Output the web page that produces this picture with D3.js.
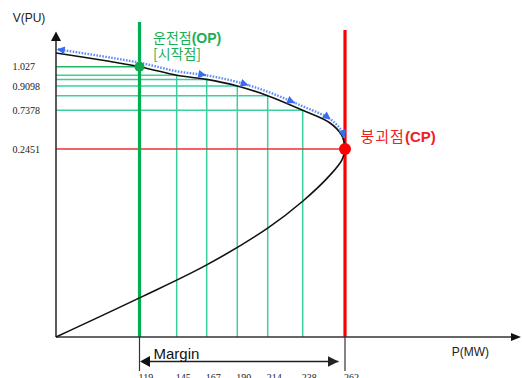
<!DOCTYPE html>
<html><head><meta charset="utf-8">
<script src="https://cdn.jsdelivr.net/npm/d3@7"></script>
<style>body{margin:0;background:#fff}svg{display:block}</style>
</head><body>
<svg id="c" width="522" height="378"></svg>
<script>
// ---------- data ----------
const tickP = [119, 145, 167, 190, 214, 238, 262];          // P(MW) ticks
const gridV = [1.027, 0.975, 0.95, 0.9098, 0.841, 0.7378, 0.2451]; // V on the curve at each tick
const yTickLabels = ["1.027", "0.9098", "0.7378", "0.2451"];
const upperBranch = [[0,1.11],[119,1.027],[145,0.975],[167,0.95],[190,0.9098],[214,0.841],[238,0.7378],[253.5,0.576],[260.1,0.423],[261.6,0.321],[262,0.2451]];
const lowerBranch = [[260.3,0.231],[253.5,0.211],[238,0.177],[214,0.142],[167,0.094],[119,0.051],[0,0]];
const opPoint = [119, 1.027];
const cpPoint = [262, 0.2451];
const arrowP = [167, 199, 233, 254, 261.5];
const labels = {op1:"운전점", op2:"(OP)", op3:"[시작점]", cp1:"붕괴점", cp2:"(CP)", y:"V(PU)", x:"P(MW)", margin:"Margin"};

// ---------- scales (schematic, piecewise) ----------
const x = d3.scaleLinear().domain([0].concat(tickP)).range([56, 139.5, 176.7, 206.7, 237.3, 267.7, 302.7, 345]);
const y = d3.scaleLinear().domain([0, 0.2451, 0.7378, 0.9098, 1.027]).range([337, 149, 110.3, 86, 66.7]);
const x0 = x(0), y0 = y(0);

const svg = d3.select("#c");
const defs = svg.append("defs");
function marker(id, color, w, h){
  defs.append("marker").attr("id", id).attr("viewBox","0 0 10 10").attr("refX",10).attr("refY",5)
    .attr("markerUnits","userSpaceOnUse").attr("markerWidth",w).attr("markerHeight",h).attr("orient","auto")
    .append("path").attr("d","M0,0L10,5L0,10z").attr("fill",color);
}
marker("blueArr", "#3a6cf0", 11, 8);
marker("blkArr", "#222", 11, 11);

// ---------- grid ----------
const grid = svg.append("g");
tickP.forEach((p, i) => {
  if (i === 0 || i === tickP.length - 1) return;
  grid.append("line").attr("x1", x0).attr("x2", x(p)).attr("y1", y(gridV[i])).attr("y2", y(gridV[i]))
    .attr("stroke", "#3ccf9c").attr("stroke-width", 1.5);
  grid.append("line").attr("x1", x(p)).attr("x2", x(p)).attr("y1", y(gridV[i])).attr("y2", y0)
    .attr("stroke", "#3ccf9c").attr("stroke-width", 1.5);
});
grid.append("line").attr("x1", x0).attr("x2", x(opPoint[0])).attr("y1", y(opPoint[1])).attr("y2", y(opPoint[1]))
  .attr("stroke", "#22b860").attr("stroke-width", 1.5);
grid.append("line").attr("x1", x0).attr("x2", x(cpPoint[0])).attr("y1", y(cpPoint[1])).attr("y2", y(cpPoint[1]))
  .attr("stroke", "#f03030").attr("stroke-width", 1.5);

// vertical OP / CP lines
svg.append("line").attr("x1", x(opPoint[0])).attr("x2", x(opPoint[0])).attr("y1", 22).attr("y2", y0)
  .attr("stroke", "#00b050").attr("stroke-width", 3.2);
svg.append("line").attr("x1", x(cpPoint[0])).attr("x2", x(cpPoint[0])).attr("y1", 30).attr("y2", y0)
  .attr("stroke", "#ff0000").attr("stroke-width", 3.2);

// ---------- axes ----------
svg.append("line").attr("x1", x0).attr("x2", x0).attr("y1", y0).attr("y2", 40).attr("stroke", "#333").attr("stroke-width", 1.6);
svg.append("path").attr("d", `M${x0},31.5L${x0+5},41L${x0-5},41Z`).attr("fill", "#111");
svg.append("line").attr("x1", x0).attr("x2", 512).attr("y1", y0).attr("y2", y0).attr("stroke", "#333").attr("stroke-width", 1.6);
svg.append("path").attr("d", `M521,${y0}L511,${y0-4}L511,${y0+4}Z`).attr("fill", "#111");

// margin bracket
[opPoint[0], cpPoint[0]].forEach(p => {
  svg.append("line").attr("x1", x(p)).attr("x2", x(p)).attr("y1", y0).attr("y2", 371).attr("stroke", "#333").attr("stroke-width", 1.2);
});
svg.append("line").attr("x1", x(opPoint[0]) + 9).attr("x2", x(cpPoint[0]) - 6.5).attr("y1", 361.5).attr("y2", 361.5)
  .attr("stroke", "#222").attr("stroke-width", 1.6).attr("marker-end", "url(#blkArr)");
svg.append("path").attr("d", `M${x(opPoint[0])+0.5},361.5L${x(opPoint[0])+10.5},356L${x(opPoint[0])+10.5},367Z`).attr("fill", "#111");
svg.append("text").attr("x", x(opPoint[0]) + 14).attr("y", 358.5).attr("font-family", "Liberation Sans, Arial, sans-serif")
  .attr("font-size", 15).attr("fill", "#111").text(labels.margin);

// ---------- curve ----------
const curvePts = upperBranch.concat(lowerBranch).map(d => [x(d[0]), y(d[1])]);
const lineGen = d3.line().curve(d3.curveCatmullRom.alpha(0.5));
svg.append("path").attr("d", lineGen(curvePts)).attr("fill", "none").attr("stroke", "#111").attr("stroke-width", 1.6);

// sample the upper branch for the dotted arrows
const hidden = svg.append("path").attr("d", lineGen(upperBranch.map(d => [x(d[0]), y(d[1])]))).attr("fill","none").attr("stroke","none");
const L = hidden.node().getTotalLength();
const samples = d3.range(0, 801).map(i => { const pt = hidden.node().getPointAtLength(L * i / 800); return [pt.x, pt.y]; });
hidden.remove();
const dy = -4;
function segment(pa, pb){
  const xa = x(pa), xb = x(pb);
  const lo = Math.min(xa, xb), hi = Math.max(xa, xb);
  let pts = samples.filter(s => s[0] >= lo && s[0] <= hi).map(s => [s[0], s[1] + dy]);
  if (xa > xb) pts = pts.reverse();
  return pts;
}
const dotted = svg.append("g");
const segs = [[opPoint[0], 0.7]];
let prev = opPoint[0];
arrowP.forEach(p => { segs.push([prev, p]); prev = p; });
segs.forEach(s => {
  dotted.append("path").attr("d", d3.line()(segment(s[0], s[1]))).attr("fill", "none")
    .attr("stroke", "#5f8ff5").attr("stroke-width", 2.4).attr("stroke-dasharray", "1.6,1.4")
    .attr("marker-end", "url(#blueArr)");
});

// points
svg.append("circle").attr("cx", x(opPoint[0])).attr("cy", y(opPoint[1])).attr("r", 5).attr("fill", "#10a850");
svg.append("circle").attr("cx", x(cpPoint[0])).attr("cy", y(cpPoint[1])).attr("r", 6).attr("fill", "#ff0000");

// ---------- text ----------
const serif = "Liberation Serif, Times New Roman, serif";
const sans = "Liberation Sans, Arial, sans-serif";
yTickLabels.forEach(t => {
  svg.append("text").attr("x", 12.5).attr("y", y(+t)).attr("dy", "0.35em").attr("font-family", serif)
    .attr("font-size", 10).attr("fill", "#222").text(t);
});
tickP.forEach(p => {
  svg.append("text").attr("x", x(p) - 1).attr("y", 380.5).attr("font-family", serif)
    .attr("font-size", 10).attr("fill", "#222").text(p);
});
svg.append("text").attr("x", 12.7).attr("y", 21.7).attr("font-family", sans).attr("font-size", 12).attr("fill", "#222").text(labels.y);
svg.append("text").attr("x", 451.7).attr("y", 356).attr("font-family", sans).attr("font-size", 12).attr("fill", "#222").text(labels.x);

const kr = "Noto Sans CJK KR, sans-serif";
const t1 = svg.append("text").attr("x", 153).attr("y", 42.5).attr("fill", "#1aae55").attr("font-size", 14);
t1.append("tspan").attr("font-family", kr).text(labels.op1);
t1.append("tspan").attr("font-family", sans).attr("font-weight", "bold").text(labels.op2);
svg.append("text").attr("x", 153).attr("y", 58.5).attr("fill", "#1aae55").attr("font-size", 14).attr("font-family", kr).text(labels.op3);
const t2 = svg.append("text").attr("x", 360.5).attr("y", 141.5).attr("fill", "#f02020").attr("font-size", 15);
t2.append("tspan").attr("font-family", kr).attr("letter-spacing", 1).text(labels.cp1);
t2.append("tspan").attr("font-family", sans).attr("font-weight", "bold").text(labels.cp2);
</script>
</body></html>
